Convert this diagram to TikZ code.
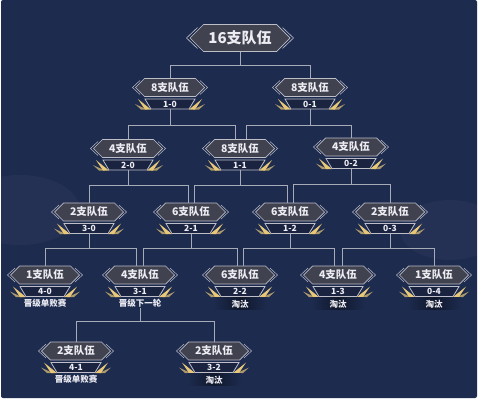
\documentclass[tikz,border=0pt]{standalone}
\usepackage{fontspec}
\newfontfamily\cjk{Noto Sans CJK SC}
\usetikzlibrary{shapes.symbols,positioning,backgrounds}

\definecolor{bgblue}{HTML}{1D2B4F}
\definecolor{hexfill}{HTML}{41424F}
\definecolor{hexline}{HTML}{BDBEC8}
\definecolor{badge}{HTML}{1A2440}
\definecolor{txt}{HTML}{ECECF2}
\definecolor{linegray}{HTML}{A7ABB8}
\definecolor{gold}{HTML}{E8C878}

\tikzset{
  team/.style={signal, signal to=west and east, signal pointer angle=90,
    draw=hexline, fill=hexfill, line width=0.7pt, text=txt,
    font=\cjk\bfseries\fontsize{10.5}{10.5}\selectfont,
    minimum width=69pt, minimum height=18pt, inner sep=0pt},
  topteam/.style={team, minimum width=100pt, minimum height=27pt,
    font=\cjk\bfseries\fontsize{15}{15}\selectfont},
  score/.style={text=txt, font=\cjk\bfseries\fontsize{8.5}{8.5}\selectfont,
    minimum width=50pt, minimum height=10pt, inner sep=0pt},
  result/.style={text=txt, font=\cjk\bfseries\fontsize{8.5}{8.5}\selectfont,
    inner sep=1pt},
  knockout/.style={result, shade, left color=bgblue, right color=bgblue,
    middle color=black!45!bgblue, minimum width=54pt, minimum height=12pt},
  link/.style={draw=linegray, line width=0.8pt},
}

\begin{document}
\begin{tikzpicture}[x=1pt, y=1pt]
  \useasboundingbox (0,0) rectangle (478,400);
  % background
  \begin{scope}[on background layer]
    \fill[white] (0,0) rectangle (478,400);
    \fill[bgblue, rounded corners=2pt] (1,2) rectangle (477,400);
    \fill[white, opacity=0.03] (20,190) ellipse (60 and 35);
    \fill[white, opacity=0.03] (450,170) ellipse (50 and 30);
  \end{scope}

  % 16 teams
  \node[topteam] (t) at (240,362) {16支队伍};

  % round 1
  \node[team] (n2a) at (170,312.5) {8支队伍};
  \node[score, below=2pt of n2a] (s2a) {1-0};
  \node[team] (n2b) at (310,312.5) {8支队伍};
  \node[score, below=2pt of n2b] (s2b) {0-1};

  % round 2
  \node[team] (n3a) at (128,251.5) {4支队伍};
  \node[score, below=2pt of n3a] (s3a) {2-0};
  \node[team] (n3b) at (240,251.5) {8支队伍};
  \node[score, below=2pt of n3b] (s3b) {1-1};
  \node[team] (n3c) at (351,253) {4支队伍};
  \node[score, below=2pt of n3c] (s3c) {0-2};

  % round 3
  \node[team] (n4a) at (89,188) {2支队伍};
  \node[score, below=2pt of n4a] (s4a) {3-0};
  \node[team] (n4b) at (191,188) {6支队伍};
  \node[score, below=2pt of n4b] (s4b) {2-1};
  \node[team] (n4c) at (290,188) {6支队伍};
  \node[score, below=2pt of n4c] (s4c) {1-2};
  \node[team] (n4d) at (390,188) {2支队伍};
  \node[score, below=2pt of n4d] (s4d) {0-3};

  % round 4
  \node[team] (n5a) at (45,125) {1支队伍};
  \node[score, below=2pt of n5a] (s5a) {4-0};
  \node[result, below=1pt of s5a] (r5a) {晋级单败赛};
  \node[team] (n5b) at (140,125) {4支队伍};
  \node[score, below=2pt of n5b] (s5b) {3-1};
  \node[result, below=1pt of s5b] (r5b) {晋级下一轮};
  \node[team] (n5c) at (240,125) {6支队伍};
  \node[score, below=2pt of n5c] (s5c) {2-2};
  \node[knockout, below=1pt of s5c] (r5c) {淘汰};
  \node[team] (n5d) at (338,125) {4支队伍};
  \node[score, below=2pt of n5d] (s5d) {1-3};
  \node[knockout, below=1pt of s5d] (r5d) {淘汰};
  \node[team] (n5e) at (434,125) {1支队伍};
  \node[score, below=2pt of n5e] (s5e) {0-4};
  \node[knockout, below=1pt of s5e] (r5e) {淘汰};

  % round 5
  \node[team] (n6a) at (76,49) {2支队伍};
  \node[score, below=2pt of n6a] (s6a) {4-1};
  \node[result, below=1pt of s6a] (r6a) {晋级单败赛};
  \node[team] (n6b) at (214,49) {2支队伍};
  \node[score, below=2pt of n6b] (s6b) {3-2};
  \node[knockout, below=1pt of s6b] (r6b) {淘汰};

  % brackets round the hexagons
  \foreach \n in {n2a,n2b,n3a,n3b,n3c,n4a,n4b,n4c,n4d,n5a,n5b,n5c,n5d,n5e,n6a,n6b}{
    \draw[hexline, line width=0.5pt] ([shift={(5,7)}]\n.west) -- ([xshift=-2.5pt]\n.west) -- ([shift={(5,-7)}]\n.west);
    \draw[hexline, line width=0.5pt] ([shift={(-5,7)}]\n.east) -- ([xshift=2.5pt]\n.east) -- ([shift={(-5,-7)}]\n.east);
  }
  \draw[hexline, line width=0.6pt] ([shift={(8,10.5)}]t.west) -- ([xshift=-3pt]t.west) -- ([shift={(8,-10.5)}]t.west);
  \draw[hexline, line width=0.6pt] ([shift={(-8,10.5)}]t.east) -- ([xshift=3pt]t.east) -- ([shift={(-8,-10.5)}]t.east);

  % score badges with gold wings
  \begin{scope}[on background layer]
    \foreach \b in {s2a,s2b,s3a,s3b,s3c,s4a,s4b,s4c,s4d,s5a,s5b,s5c,s5d,s5e,s6a,s6b}{
      \begin{scope}[shift={(\b)}]
        \foreach \s in {1,-1}{
          \fill[gold!70!bgblue, xscale=\s] (-23,-5.5) -- (-35,0) -- (-29,-5.5) -- cycle;
          \fill[gold, xscale=\s] (-19,-5.5) -- (-32,5) -- (-25,-5.5) -- cycle;
        }
        \filldraw[fill=badge, draw=hexline, line width=0.8pt] (-25,5) -- (25,5) -- (19,-5) -- (-19,-5) -- cycle;
      \end{scope}
    }
  \end{scope}

  % connectors
  \draw[link] (t.south) -- ++(0,-13.5) -| (n2a.north);
  \draw[link] (t.south) -- ++(0,-13.5) -| (n2b.north);

  \draw[link] (n3a.north) |- ([yshift=-16pt]s2a.south) -| ([xshift=-5pt]n3b.north);
  \draw[link] (s2a.south) -- ++(0,-16);
  \draw[link] ([xshift=6pt]n3b.north) |- ([yshift=-16pt]s2b.south) -| (n3c.north);
  \draw[link] (s2b.south) -- ++(0,-16);

  \draw[link] (n4a.north) |- ([yshift=-15.5pt]s3a.south) -| ([xshift=-3pt]n4b.north);
  \draw[link] (s3a.south) -- ++(0,-15.5);
  \draw[link] ([xshift=3pt]n4b.north) |- ([yshift=-15.5pt]s3b.south) -| ([xshift=-3pt]n4c.north);
  \draw[link] (s3b.south) -- ++(0,-15.5);
  \draw[link] ([xshift=3pt]n4c.north) |- ([yshift=-15.5pt]s3c.south) -| (n4d.north);
  \draw[link] (s3c.south) -- ++(0,-15.5);

  \draw[link] (n5a.north) |- ([yshift=-15pt]s4a.south) -| ([xshift=-4pt]n5b.north);
  \draw[link] (s4a.south) -- ++(0,-15);
  \draw[link] ([xshift=3pt]n5b.north) |- ([yshift=-15pt]s4b.south) -| ([xshift=-3pt]n5c.north);
  \draw[link] (s4b.south) -- ++(0,-15);
  \draw[link] ([xshift=3pt]n5c.north) |- ([yshift=-15pt]s4c.south) -| ([xshift=-4pt]n5d.north);
  \draw[link] (s4c.south) -- ++(0,-15);
  \draw[link] ([xshift=4pt]n5d.north) |- ([yshift=-15pt]s4d.south) -| (n5e.north);
  \draw[link] (s4d.south) -- ++(0,-15);

  \draw[link] (n6a.north) |- ([yshift=-13pt]r5b.south) -| (n6b.north);
  \draw[link] (r5b.south) -- ++(0,-13);
\end{tikzpicture}
\end{document}
